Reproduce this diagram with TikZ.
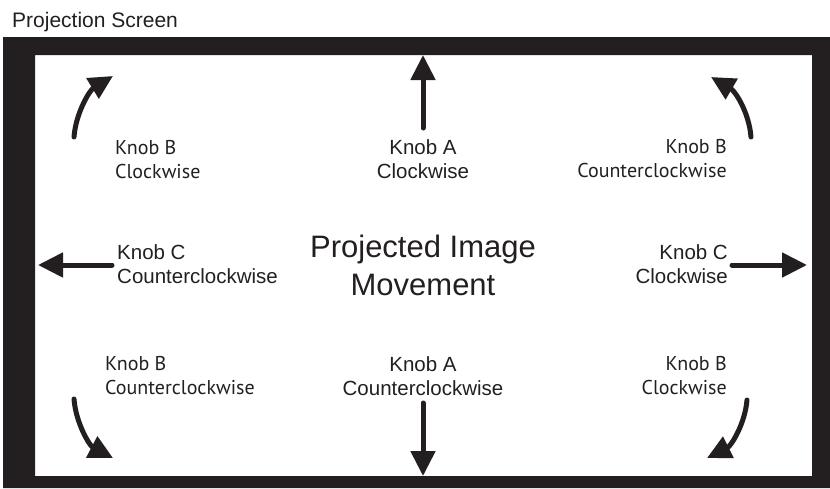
\documentclass[tikz,border=0pt]{standalone}
\usepackage{fontspec}
\setmainfont{Liberation Sans}
\newfontfamily\myriad{PT Sans}
\usetikzlibrary{arrows.meta, positioning}
\definecolor{ink}{RGB}{35,31,32}

\begin{document}
\begin{tikzpicture}[x=1pt, y=-1pt]
\tikzset{
  label a/.style={text=ink, inner sep=0pt, font=\fontsize{20.5}{24}\selectfont},
  label b/.style={text=ink, inner sep=0pt, font=\myriad\fontsize{20}{24}\selectfont},
  move/.style={draw=ink, line width=5pt, line cap=round, -{Triangle[length=25pt, width=24pt]}},
  turn/.style={draw=ink, line width=5pt, line cap=round, -{Triangle[length=24pt, width=23pt]}}
}
\useasboundingbox (0,0) rectangle (830,488);

% screen frame
\fill[ink, even odd rule] (3,37) rectangle (830,488) (35,55) rectangle (812,476);

\node[label a, font=\fontsize{21}{24}\selectfont, anchor=base west] (screen) at (12,27) {Projection Screen};

% texts (base = last line)
\node[label b, anchor=base west, align=left] (kbtl) at (115,178) {Knob B\\Clockwise};
\node[label a, anchor=base, align=center] (katop) at (423,178) {Knob A\\Clockwise};
\node[label b, anchor=base east, align=right] (kbtr) at (727,177) {Knob B\\Counterclockwise};
\node[label a, anchor=base west, align=left] (kcl) at (117,283) {Knob C\\Counterclockwise};
\node[label a, font=\fontsize{31}{38}\selectfont, anchor=base, align=center] (title) at (423,295) {Projected Image\\Movement};
\node[label a, anchor=base east, align=right] (kcr) at (728,283) {Knob C\\Clockwise};
\node[label b, anchor=base west, align=left] (kbbl) at (105,394) {Knob B\\Counterclockwise};
\node[label a, anchor=base, align=center] (kabot) at (423,395) {Knob A\\Counterclockwise};
\node[label b, anchor=base east, align=right] (kbbr) at (727,394) {Knob B\\Clockwise};

% arrow ends
\coordinate (up0) at (423,128);   \coordinate (up1) at (423,55);
\coordinate (dn0) at (423,403);   \coordinate (dn1) at (423,476);
\coordinate (lf0) at (112,265);   \coordinate (lf1) at (38,265);
\coordinate (rt0) at (732,265);   \coordinate (rt1) at (807,265);
\coordinate (tl0) at (74,137);    \coordinate (tl1) at (113,76);
\coordinate (tr0) at (751,137);   \coordinate (tr1) at (711,77);
\coordinate (bl0) at (74,399);    \coordinate (bl1) at (113,458);
\coordinate (br0) at (747,400);   \coordinate (br1) at (707,458);

\draw[move] (up0) -- (up1);
\draw[move] (dn0) -- (dn1);
\draw[move] (lf0) -- (lf1);
\draw[move] (rt0) -- (rt1);

\draw[turn] (tl0) .. controls (76,112) and (90,90) .. (tl1);
\draw[turn] (tr0) .. controls (749,112) and (735,91) .. (tr1);
\draw[turn] (bl0) .. controls (76,424) and (90,446) .. (bl1);
\draw[turn] (br0) .. controls (745,424) and (731,446) .. (br1);
\end{tikzpicture}
\end{document}
